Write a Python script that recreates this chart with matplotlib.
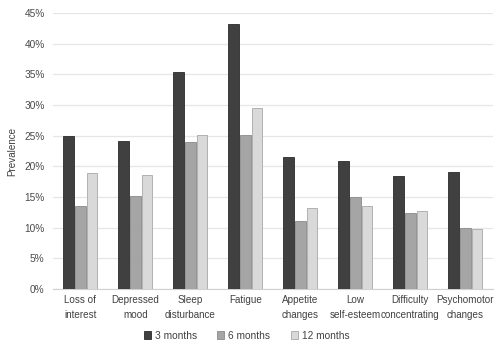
import numpy as np
import matplotlib
matplotlib.use("Agg")
import matplotlib.pyplot as plt
from matplotlib.ticker import FuncFormatter

plt.rcParams['font.family'] = ['Liberation Sans', 'DejaVu Sans']

# Prevalenza dei sintomi per follow-up
categories = ["Loss of\ninterest", "Depressed\nmood", "Sleep\ndisturbance", "Fatigue",
              "Appetite\nchanges", "Low\nself-esteem", "Difficulty\nconcentrating",
              "Psychomotor\nchanges"]
months_3 = [25.0, 24.2, 35.4, 43.2, 21.6, 20.9, 18.4, 19.1]
months_6 = [13.5, 15.2, 24.0, 25.2, 11.1, 15.0, 12.4, 10.0]
months_12 = [19.0, 18.6, 25.1, 29.5, 13.2, 13.5, 12.8, 9.8]
series_names = ["3 months", "6 months", "12 months"]

fig = plt.figure(figsize=(5.04, 3.43), dpi=100)
ax = fig.add_axes([0.105, 0.157, 0.873, 0.805])

x = np.arange(len(categories))
w = 0.19
step = 0.215
colori = ["#404040", "#a5a5a5", "#d9d9d9"]
bordi = ["#2a2a2a", "#8a8a8a", "#a8a8a8"]
for i, (vals, nome) in enumerate(zip([months_3, months_6, months_12], series_names)):
    ax.bar(x + (i - 1) * step, vals, width=w, color=colori[i], edgecolor=bordi[i],
           linewidth=0.6, label=nome, zorder=3)

ax.set_xlim(-0.5, len(categories) - 0.5)
ax.set_ylim(0, 45)
ax.set_yticks(np.arange(0, 46, 5))
ax.yaxis.set_major_formatter(FuncFormatter(lambda v, p: "%d%%" % v))
ax.set_xticks(x)
ax.set_xticklabels(categories, fontsize=7.1, color="#404040", linespacing=1.65)
ax.tick_params(axis="y", labelsize=7.3, colors="#4a4a4a", length=0, pad=6)
ax.tick_params(axis="x", length=0, pad=4)
ax.grid(axis="y", color="#e6e6e6", linewidth=0.9, zorder=0)
for s in ["top", "right", "left"]:
    ax.spines[s].set_visible(False)
ax.spines["bottom"].set_color("#d0d0d0")
ax.set_ylabel("Prevalence", fontsize=7.1, color="#404040", labelpad=5)

ax.legend(loc="center", bbox_to_anchor=(0.44, -0.168), ncol=3, frameon=False,
          fontsize=7.3, handlelength=0.7, handleheight=0.7, columnspacing=2.0,
          handletextpad=0.4, labelcolor="#404040")

plt.savefig("out.png", dpi=100)
